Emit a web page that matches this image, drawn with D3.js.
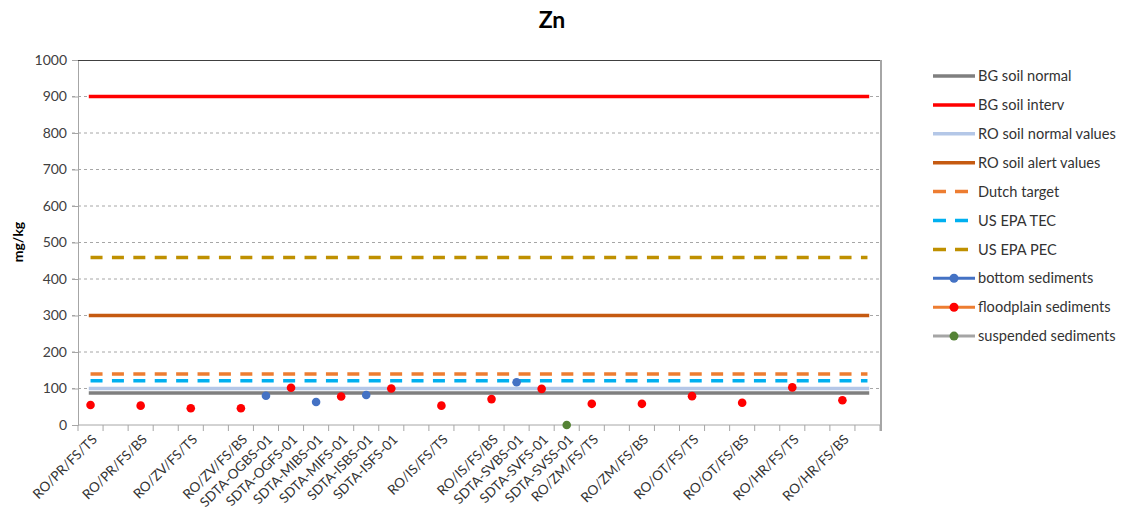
<!DOCTYPE html>
<html>
<head>
<meta charset="utf-8">
<script src="https://cdn.jsdelivr.net/npm/d3@7"></script>
<style>
  html, body { margin: 0; padding: 0; background: #ffffff; }
  svg { display: block; font-family: Lato, "Open Sans", sans-serif; }
</style>
</head>
<body>
<svg id="chart" width="1126" height="516"></svg>
<script>
// Sample labels along the x axis (blank slots keep the spacing of the sampling sites)
const categoryLabels = [
  "RO/PR/FS/TS", "", "RO/PR/FS/BS", "", "RO/ZV/FS/TS", "", "RO/ZV/FS/BS",
  "SDTA-OGBS-01", "SDTA-OGFS-01", "SDTA-MIBS-01", "SDTA-MIFS-01",
  "SDTA-ISBS-01", "SDTA-ISFS-01", "", "RO/IS/FS/TS", "", "RO/IS/FS/BS",
  "SDTA-SVBS-01", "SDTA-SVFS-01", "SDTA-SVSS-01", "RO/ZM/FS/TS", "",
  "RO/ZM/FS/BS", "", "RO/OT/FS/TS", "", "RO/OT/FS/BS", "", "RO/HR/FS/TS", "",
  "RO/HR/FS/BS", ""
];

// Zn concentrations (mg/kg); null = no sample of that type at the slot
const bottomSediments = [
  null, null, null, null, null, null, null, 80, null, 63, null, 82, null, null, null, null,
  null, 117, null, null, null, null, null, null, null, null, null, null, null, null, null, null
];
const floodplainSediments = [
  55, null, 53, null, 46, null, 46, null, 102, null, 78, null, 100, null, 53, null,
  71, null, 99, null, 58, null, 58, null, 79, null, 61, null, 103, null, 68, null
];
const suspendedSediments = [
  null, null, null, null, null, null, null, null, null, null, null, null, null, null, null, null,
  null, null, null, 0, null, null, null, null, null, null, null, null, null, null, null, null
];

// Guideline values for Zn (mg/kg)
const guidelineNames  = ["BG soil normal", "BG soil interv", "RO soil normal values", "RO soil alert values", "Dutch target", "US EPA TEC", "US EPA PEC"];
const guidelineValues = [88, 900, 100, 300, 140, 121, 459];
const guidelineColors = ["#7f7f7f", "#ff0000", "#b4c7e7", "#c55a11", "#ed7d31", "#00b0f0", "#bf9000"];
const guidelineDashed = [false, false, false, false, true, true, true];

const seriesNames       = ["bottom sediments", "floodplain sediments", "suspended sediments"];
const seriesMarkerColor = ["#4472c4", "#ff0000", "#548235"];
const seriesLineColor   = ["#4472c4", "#ed7d31", "#a5a5a5"];

const yTicks = [0, 100, 200, 300, 400, 500, 600, 700, 800, 900, 1000];

const svg = d3.select("#chart");
const margin = { left: 78, top: 60, right: 246, bottom: 91 };
const W = 1126, H = 516;
const innerW = W - margin.left - margin.right;
const innerH = H - margin.top - margin.bottom;

const x = d3.scaleBand().domain(d3.range(categoryLabels.length)).range([0, innerW]).paddingInner(0).paddingOuter(0);
const y = d3.scaleLinear().domain([0, 1000]).range([innerH, 0]);
const cx = i => x(i) + x.bandwidth() / 2;

const g = svg.append("g").attr("transform", `translate(${margin.left},${margin.top})`);

// Title
svg.append("text")
  .attr("x", 552).attr("y", 28)
  .attr("text-anchor", "middle")
  .attr("font-weight", "bold").attr("font-size", 23)
  .attr("fill", "#000")
  .text("Zn");

// Horizontal dashed gridlines
g.append("g").selectAll("line").data(yTicks.filter(t => t > 0 && t < 1000)).join("line")
  .attr("x1", -6).attr("x2", innerW)
  .attr("y1", d => y(d)).attr("y2", d => y(d))
  .attr("stroke", "#a6a6a6").attr("stroke-width", 1).attr("stroke-dasharray", "3,3");

// Y axis
const yAxis = g.append("g").call(d3.axisLeft(y).tickValues(yTicks).tickFormat(d3.format("d")).tickSize(6).tickPadding(5));
yAxis.select(".domain").attr("stroke", "#a6a6a6");
yAxis.selectAll(".tick line").attr("stroke", "#a6a6a6");
yAxis.selectAll(".tick text").attr("font-size", 14).attr("fill", "#404040").attr("font-family", "Lato, sans-serif");

// Plot frame: top and right edges
g.append("line").attr("x1", 0).attr("x2", innerW + 1).attr("y1", 0.5).attr("y2", 0.5)
  .attr("stroke", "#404040").attr("stroke-width", 1);
g.append("line").attr("x1", innerW + 1).attr("x2", innerW + 1).attr("y1", 0).attr("y2", innerH + 6)
  .attr("stroke", "#a6a6a6").attr("stroke-width", 2);

// X axis with boundary ticks
const xg = g.append("g").attr("transform", `translate(0,${innerH})`);
xg.append("line").attr("x1", 0).attr("x2", innerW).attr("y1", 0).attr("y2", 0).attr("stroke", "#a6a6a6");
xg.selectAll("line.tk").data(d3.range(categoryLabels.length + 1)).join("line")
  .attr("class", "tk")
  .attr("x1", d => d * x.bandwidth()).attr("x2", d => d * x.bandwidth())
  .attr("y1", 0).attr("y2", 6)
  .attr("stroke", "#a6a6a6");
xg.selectAll("text").data(categoryLabels.map((l, i) => ({ l, i })).filter(d => d.l)).join("text")
  .attr("transform", d => `translate(${cx(d.i) + 4},${12}) rotate(-45)`)
  .attr("text-anchor", "end")
  .attr("dy", "0.35em")
  .attr("font-size", 13.5)
  .attr("fill", "#333333")
  .text(d => d.l);

// Y axis title
svg.append("text")
  .attr("transform", `translate(23,242) rotate(-90)`)
  .attr("text-anchor", "middle")
  .attr("font-weight", "bold").attr("font-size", 14)
  .attr("fill", "#000")
  .text("mg/kg");

// Guideline lines spanning first to last category
const firstC = 0, lastC = categoryLabels.length - 1;
const drawOrder = [0, 1, 2, 3, 4, 5, 6];
g.append("g").selectAll("line").data(drawOrder).join("line")
  .attr("x1", cx(firstC)).attr("x2", cx(lastC))
  .attr("y1", i => y(guidelineValues[i])).attr("y2", i => y(guidelineValues[i]))
  .attr("stroke", i => guidelineColors[i])
  .attr("stroke-width", 3.5)
  .attr("stroke-linecap", i => guidelineDashed[i] ? "butt" : "square")
  .attr("stroke-dasharray", i => guidelineDashed[i] ? "12,9.4" : null);

// Sample markers
const seriesData = [bottomSediments, floodplainSediments, suspendedSediments];
seriesData.forEach((vals, s) => {
  g.append("g").selectAll("circle")
    .data(vals.map((v, i) => ({ v, i })).filter(d => d.v !== null)).join("circle")
    .attr("cx", d => cx(d.i)).attr("cy", d => y(d.v))
    .attr("r", 4.3)
    .attr("fill", seriesMarkerColor[s]);
});

// Legend
const legend = svg.append("g").attr("transform", "translate(933,76)");
const rowH = 28.9;
const items = guidelineNames.map((n, i) => ({ n, type: "g", i }))
  .concat(seriesNames.map((n, i) => ({ n, type: "s", i })));
const li = legend.selectAll("g").data(items).join("g")
  .attr("transform", (d, k) => `translate(0,${k * rowH})`);
li.each(function (d) {
  const el = d3.select(this);
  if (d.type === "g") {
    el.append("line").attr("x1", 0).attr("x2", 42).attr("y1", 0).attr("y2", 0)
      .attr("stroke", guidelineColors[d.i]).attr("stroke-width", 3.5)
      .attr("stroke-dasharray", guidelineDashed[d.i] ? "13,9" : null);
  } else {
    el.append("line").attr("x1", 0).attr("x2", 42).attr("y1", 0).attr("y2", 0)
      .attr("stroke", seriesLineColor[d.i]).attr("stroke-width", 3);
    el.append("circle").attr("cx", 21).attr("cy", 0).attr("r", 4.5).attr("fill", seriesMarkerColor[d.i]);
  }
  el.append("text").attr("x", 45).attr("y", 0).attr("dy", "0.35em")
    .attr("font-size", 14.6).attr("fill", "#333333").text(d.n);
});
</script>
</body>
</html>
